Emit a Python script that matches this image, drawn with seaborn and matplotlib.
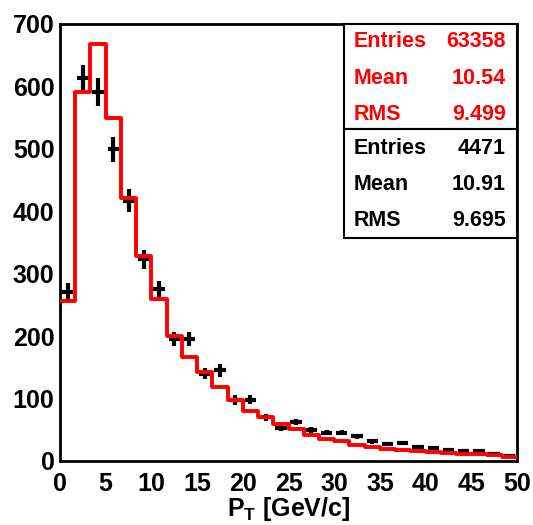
import numpy as np
import pandas as pd
import matplotlib
matplotlib.use("Agg")
import matplotlib.pyplot as plt
from matplotlib.patches import Rectangle
import seaborn as sns

# ---- data ----
x_min, x_max, n_bins = 0.0, 50.0, 30
red_counts = [256, 591, 668, 550, 422, 329, 259, 201, 167, 142,
              118, 97, 80, 71, 60, 52, 42, 35, 32, 26,
              23, 20, 17, 16, 15, 13, 12, 11, 9, 6]
black_values = [270, 613, 591, 499, 417, 323, 275, 195, 196, 140,
                145, 98, 98, 70, 53, 62, 50, 45, 45, 40,
                32, 28, 29, 22, 21, 18, 16, 16, 12, 8]
black_errors = [15, 21, 23, 20, 18, 15, 13, 11, 11, 9,
                10, 8, 7, 6, 5, 5, 5, 4, 4, 4,
                4, 3, 3, 3, 3, 3, 3, 3, 2, 2]
x_ticks = [0, 5, 10, 15, 20, 25, 30, 35, 40, 45, 50]
y_ticks = [0, 100, 200, 300, 400, 500, 600, 700]
stats_red = [("Entries", "63358"), ("Mean", "10.54"), ("RMS", "9.499")]
stats_black = [("Entries", "4471"), ("Mean", "10.91"), ("RMS", "9.695")]
x_label = "P$_{T}$ [GeV/c]"

edges = np.linspace(x_min, x_max, n_bins + 1)
centers = 0.5 * (edges[:-1] + edges[1:])
df = pd.DataFrame({"pt": centers, "red": red_counts,
                   "black": black_values, "err": black_errors})

sns.set_style("white")
plt.rcParams["font.family"] = ["Liberation Sans", "DejaVu Sans"]
plt.rcParams["font.weight"] = "bold"
plt.rcParams["text.color"] = "black"
plt.rcParams["axes.labelcolor"] = "black"
plt.rcParams["mathtext.fontset"] = "custom"
plt.rcParams["mathtext.rm"] = "Liberation Sans:bold"
plt.rcParams["mathtext.it"] = "Liberation Sans:bold"
plt.rcParams["mathtext.bf"] = "Liberation Sans:bold"
plt.rcParams["mathtext.default"] = "rm"

W, H = 533, 525
fig = plt.figure(figsize=(W / 100, H / 100), dpi=100)
fig.patch.set_facecolor("white")
L, R, T, B = 60, 517, 24, 461
ax = fig.add_axes([L / W, 1 - B / H, (R - L) / W, (B - T) / H])
ax.set_facecolor("white")

# black data points with error bars
eb = ax.errorbar(df["pt"], df["black"], yerr=df["err"], xerr=0.62,
                 fmt="none", ecolor="black", elinewidth=3.0, capsize=0,
                 zorder=2)
for c in eb[2]:
    c.set_capstyle("butt")

# red histogram
sns.histplot(data=df, x="pt", weights="red", bins=n_bins,
             binrange=(x_min, x_max), element="step",
             fill=False, color="red", linewidth=2.8, ax=ax, zorder=3)

ax.set_xlim(x_min, x_max)
ax.set_ylim(0, 700)
ax.set_xticks(x_ticks)
ax.set_yticks(y_ticks)
ax.set_xticks(np.arange(0, 51, 1), minor=True)
ax.set_yticks(np.arange(0, 701, 20), minor=True)
ax.tick_params(axis="both", which="both", direction="in", width=1.5,
               top=False, right=False, labelsize=18, colors="black")
ax.tick_params(axis="both", which="major", length=8.5)
ax.tick_params(axis="both", which="minor", length=4.2)
ax.tick_params(axis="x", which="major", pad=8)
ax.tick_params(axis="y", which="major", pad=4)
for lab in ax.get_xticklabels() + ax.get_yticklabels():
    lab.set_fontweight("bold")
for sp in ax.spines.values():
    sp.set_linewidth(2.0)
    sp.set_color("black")
ax.set_ylabel("")
ax.set_xlabel(x_label, fontsize=18, fontweight="bold", color="black",
              labelpad=-1)

# stats boxes
def fx(px):
    return px / W

def fy(py):
    return 1 - py / H

bx0, bx1 = 344, 517
for (top, bot) in [(24, 129), (129, 238)]:
    fig.patches.append(Rectangle((fx(bx0), fy(bot)), fx(bx1) - fx(bx0),
                                 fy(top) - fy(bot), transform=fig.transFigure,
                                 facecolor="white", edgecolor="black",
                                 linewidth=1.5, zorder=5))
for rows, color, baselines in [(stats_red, "red", [47, 83.5, 119.5]),
                               (stats_black, "black", [153.5, 190, 226])]:
    for (k, v), yb in zip(rows, baselines):
        fig.text(fx(354), fy(yb), k, color=color, fontsize=15.5,
                 fontweight="bold", ha="left", va="baseline", zorder=6)
        fig.text(fx(506), fy(yb), v, color=color, fontsize=15.5,
                 fontweight="bold", ha="right", va="baseline", zorder=6)

fig.savefig("out.png", dpi=100, facecolor="white")
